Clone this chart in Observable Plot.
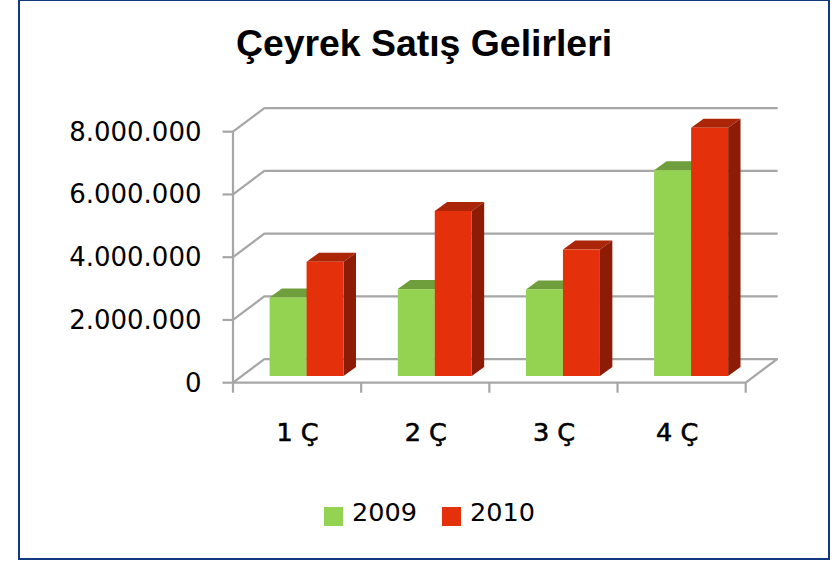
<!DOCTYPE html>
<html lang="tr">
<head>
<meta charset="utf-8">
<script src="https://cdn.jsdelivr.net/npm/d3@7"></script>
<script src="https://cdn.jsdelivr.net/npm/@observablehq/plot@0.6"></script>
<style>
  html, body { margin: 0; padding: 0; background: #fff; }
  body { width: 838px; height: 561px; position: relative; overflow: hidden; }
  #frame { position: absolute; left: 18px; top: -1px; width: 812px; height: 561px; box-sizing: border-box; border: 2px solid #14387f; pointer-events: none; }
  #title { position: absolute; left: 0; top: 20px; width: 848px; text-align: center; margin: 0; font: bold 37.4px "Liberation Sans", Arial, sans-serif; color: #000; line-height: 46px; }
  #chart { position: absolute; left: 0; top: 0; }
  #chart svg { display: block; }
  #chart g[aria-label="x-axis tick label"] text { stroke: #000; stroke-width: 0.6px; }
  #chart g[aria-label="x-axis tick label"] text:nth-child(4) { translate: -5px 0; }
  #legend { position: absolute; left: 324px; top: 497px; font: 25.5px "DejaVu Sans", sans-serif; color: #000; line-height: 30px; display: flex; white-space: nowrap; }
  #legend span.sw { display: inline-block; width: 19px; height: 19px; margin-top: 10px; margin-right: 9px; }
  #legend span.lb { margin-right: 25px; width: 65px; }
</style>
</head>
<body>
<div id="chart"></div>
<h1 id="title">Çeyrek Satış Gelirleri</h1>
<div id="legend"></div>
<div id="frame"></div>
<script>
const quarters = ["1 Ç", "2 Ç", "3 Ç", "4 Ç"];
const years = ["2009", "2010"];
const values2009 = [2500000, 2770000, 2760000, 6560000];
const values2010 = [3640000, 5260000, 4030000, 7910000];
const yTicks = [0, 2000000, 4000000, 6000000, 8000000];
const frontColors = ["#94d352", "#e4300b"];
const topColors = ["#6f9e3d", "#ab2508"];
const sideColors = ["#6f9e3d", "#8e1c05"];

const gridColor = "#a6a6a6";
const gridWidth = 2.2;
const wall = {dx: 32, dy: -24};         // depth of the chart box
const barOffset = {dx: 9.5, dy: -6.7};  // where the bars stand on the floor
const barDepth = {dx: 12.4, dy: -9};    // depth of each bar
const barWidth = 37;

const rows = quarters.flatMap((q, i) => [
  {quarter: q, year: years[0], value: values2009[i], s: 0},
  {quarter: q, year: years[1], value: values2010[i], s: 1}
]);

const bandOf = (d) => (d.width - d.marginLeft - d.marginRight) / quarters.length;
const svgEl = (name) => document.createElementNS("http://www.w3.org/2000/svg", name);
const poly = (g, pts, fill) => {
  const p = svgEl("polygon");
  p.setAttribute("points", pts.map((c) => c.join(",")).join(" "));
  p.setAttribute("fill", fill);
  g.appendChild(p);
};
const seg = (g, x1, y1, x2, y2) => {
  const l = svgEl("line");
  for (const [k, v] of Object.entries({x1, y1, x2, y2})) l.setAttribute(k, v);
  l.setAttribute("stroke", gridColor);
  l.setAttribute("stroke-width", gridWidth);
  g.appendChild(l);
};

// Box of the chart: back-wall diagonals, floor, axis line and tick marks, from the scales.
function boxMark(index, scales, values, dims) {
  const g = svgEl("g");
  const x0 = dims.marginLeft;
  const x1 = dims.width - dims.marginRight;
  const y0 = scales.y(0);
  for (const t of yTicks) {
    const y = scales.y(t);
    seg(g, x0 - 10.5, y, x0, y);
    seg(g, x0, y, x0 + wall.dx, y + wall.dy);
  }
  seg(g, x0, scales.y(yTicks[yTicks.length - 1]), x0, y0);
  seg(g, x0, y0, x1, y0);
  seg(g, x1, y0, x1 + wall.dx, y0 + wall.dy);
  const edges = quarters.map((q) => scales.x(q)).concat(x1);
  for (const e of edges) seg(g, e, y0, e, y0 + 10);
  return g;
}

// Top and side of every bar, derived from the front face through the scales.
function depthMark(index, scales, values, dims) {
  const g = svgEl("g");
  const w = bandOf(dims);
  const groupLeft = (w - 2 * barWidth) / 2;
  for (const r of rows) {
    const xl = scales.x(r.quarter) + groupLeft + r.s * barWidth + barOffset.dx;
    const xr = xl + barWidth;
    const yt = scales.y(r.value) + barOffset.dy;
    const yb = scales.y(0) + barOffset.dy;
    const {dx, dy} = barDepth;
    poly(g, [[xl, yt], [xl + dx, yt + dy], [xr + dx, yt + dy], [xr, yt]], topColors[r.s]);
    poly(g, [[xr, yt], [xr + dx, yt + dy], [xr + dx, yb + dy], [xr, yb]], sideColors[r.s]);
  }
  return g;
}

const bandW = (745.7 - 233) / quarters.length;
const gLeft = (bandW - 2 * barWidth) / 2;

const plot = Plot.plot({
  width: 838,
  height: 561,
  marginLeft: 233,
  marginRight: 92.3,
  marginTop: 131.7,
  marginBottom: 178.3,
  style: {background: "transparent", fontFamily: "'DejaVu Sans', sans-serif", color: "#000"},
  x: {domain: quarters, padding: 0, round: false, label: null},
  y: {domain: [0, 8000000], label: null},
  marks: [
    Plot.ruleY(yTicks, {stroke: gridColor, strokeWidth: gridWidth, strokeOpacity: 1, dx: wall.dx, dy: wall.dy}),
    boxMark,
    depthMark,
    Plot.barY(rows.filter((d) => d.s === 0), {
      x: "quarter", y: "value", fill: frontColors[0],
      dx: barOffset.dx, dy: barOffset.dy,
      insetLeft: gLeft, insetRight: bandW - gLeft - barWidth
    }),
    Plot.barY(rows.filter((d) => d.s === 1), {
      x: "quarter", y: "value", fill: frontColors[1],
      dx: barOffset.dx, dy: barOffset.dy,
      insetLeft: gLeft + barWidth, insetRight: gLeft
    }),
    Plot.axisY({
      ticks: yTicks, tickSize: 0, tickPadding: 32, label: null, fontSize: 26,
      tickFormat: (v) => d3.format(",")(v).replace(/,/g, "."),
      fill: "#000"
    }),
    Plot.axisX({
      tickSize: 0, tickPadding: 40, label: null, fontSize: 25.5, fill: "#000"
    })
  ]
});
document.getElementById("chart").appendChild(plot);

const legend = document.getElementById("legend");
years.forEach((y, i) => {
  const sw = document.createElement("span");
  sw.className = "sw";
  sw.style.background = frontColors[i];
  const lb = document.createElement("span");
  lb.className = "lb";
  lb.textContent = y;
  legend.append(sw, lb);
});
</script>
</body>
</html>
